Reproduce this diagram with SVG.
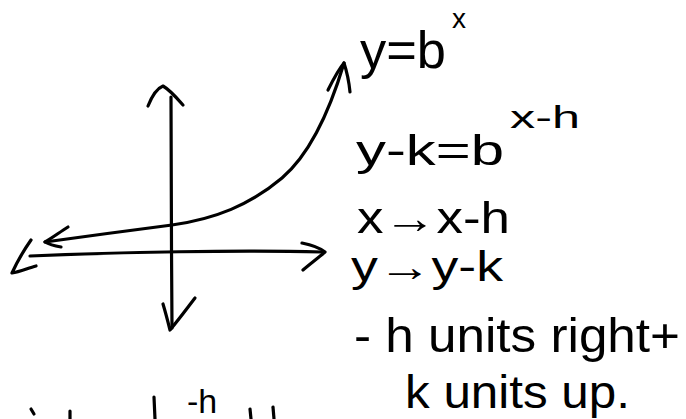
<svg xmlns="http://www.w3.org/2000/svg" width="686" height="419" viewBox="0 0 686 419">
<style>
.ink{fill:none;stroke:#000;stroke-width:3.2;stroke-linecap:round;stroke-linejoin:round}
.t{font-family:"Liberation Sans","DejaVu Sans",sans-serif;fill:#000}
</style>
<rect width="686" height="419" fill="#fff"/>
<g id="axes">
<path class="ink" d="M171,97 C172,160 171,250 172,328"/>
<path class="ink" d="M148,106 C152,96 158,88 163,86 C170,90 176,97 183,105"/>
<path class="ink" d="M163,304 C166,314 168,322 170,330 C180,318 188,307 195,298"/>
<path class="ink" d="M30,256 C120,252 240,250 322,252"/>
<path class="ink" d="M302,243 C312,245 320,248 325,252 C318,258 310,264 303,270"/>
<path class="ink" d="M31,240 C24,250 17,262 12,273 C20,272 28,268 36,266"/>
</g>
<g id="curve">
<path class="ink" d="M45,242 Q110,233 172,225 C215,219 250,205 282,178 C310,154 330,110 344,63"/>
<path class="ink" d="M68,227 C60,232 52,238 45,242 C50,245 55,246 61,247"/>
<path class="ink" d="M328,90 C333,80 338,70 344,63 C347,72 349,82 350,92"/>
</g>
<g id="labels">
<text class="t" x="360" y="68" font-size="52" textLength="86" lengthAdjust="spacingAndGlyphs">y=b</text>
<text class="t" x="452" y="28" font-size="28">x</text>
<text class="t" x="356" y="165" font-size="42" textLength="148" lengthAdjust="spacingAndGlyphs">y-k=b</text>
<text class="t" x="510" y="128" font-size="32" textLength="70" lengthAdjust="spacingAndGlyphs">x-h</text>
<text class="t" x="357" y="233" font-size="44" textLength="153" lengthAdjust="spacingAndGlyphs">x→x-h</text>
<text class="t" x="351" y="281" font-size="42" textLength="152" lengthAdjust="spacingAndGlyphs">y→y-k</text>
<text class="t" x="354" y="352" font-size="48" textLength="326" lengthAdjust="spacingAndGlyphs">- h units right+</text>
<text class="t" x="405" y="408" font-size="46" textLength="225" lengthAdjust="spacingAndGlyphs">k units up.</text>
<text class="t" x="187" y="413" font-size="34">-h</text>
</g>
<g id="cut-marks">
<path class="ink" d="M31,409 L34,414"/>
<path class="ink" d="M70,411 L70,419"/>
<path class="ink" d="M154,397 L155,419"/>
<path class="ink" d="M250,409 L251,419"/>
<path class="ink" d="M273,407 L274,419"/>
</g>
</svg>
